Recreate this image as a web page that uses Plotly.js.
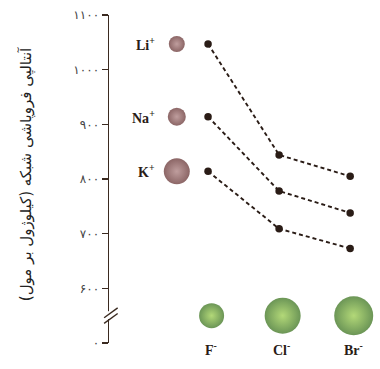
<!DOCTYPE html>
<html>
<head>
<meta charset="utf-8">
<script src="https://cdn.plot.ly/plotly-3.0.1.min.js"></script>
<style>html,body{margin:0;padding:0;background:#fff;}#chart{width:380px;height:369px;}</style>
</head>
<body>
<div id="chart"></div>
<script>
// Data
const anions = ['F', 'Cl', 'Br'];
const anionLabels = ['F<sup>-</sup>', 'Cl<sup>-</sup>', 'Br<sup>-</sup>'];
const cations = ['Li', 'Na', 'K'];
const cationLabels = ['Li<sup>+</sup>', 'Na<sup>+</sup>', 'K<sup>+</sup>'];
const liValues = [1047, 844, 805];
const naValues = [914, 778, 738];
const kValues = [814, 709, 673];
const yTickVals = [500, 600, 700, 800, 900, 1000, 1100];
const yTickText = ['۰', '۶۰۰', '۷۰۰', '۸۰۰', '۹۰۰', '۱۰۰۰', '۱۱۰۰'];
const yTitle = 'آنتالپی فروپاشی شبکه (کیلوژول بر مول)';

const xIdx = anions.map((a, i) => i);
const series = [liValues, naValues, kValues];

const traces = series.map(vals => ({
  type: 'scatter', mode: 'lines+markers',
  x: xIdx, y: vals,
  line: {color: '#2a1c16', width: 1.9, dash: '4px,3px'},
  marker: {color: '#2a1c16', size: 7.5},
  hoverinfo: 'skip', showlegend: false, cliponaxis: false
}));

// cation spheres at level of the fluoride values
traces.push({
  type: 'scatter', mode: 'markers',
  x: cations.map(() => -0.44), y: series.map(v => v[0]),
  marker: {size: [16, 18, 26], color: '#5a2424',
    gradient: {type: 'radial', color: '#a47474'}, line: {width: 0}},
  hoverinfo: 'skip', showlegend: false, cliponaxis: false
});

// anion spheres
traces.push({
  type: 'scatter', mode: 'markers',
  x: xIdx.map(i => i + 0.05), y: anions.map(() => 550),
  marker: {size: [25, 36, 39], color: '#2c680e',
    gradient: {type: 'radial', color: '#92c83e'}, line: {width: 0}},
  hoverinfo: 'skip', showlegend: false, cliponaxis: false
});

const labelFont = {family: 'Liberation Serif, serif', size: 14, color: '#2a1c16'};
const annotations = [];
cationLabels.forEach((t, i) => annotations.push({
  x: -0.72, y: series[i][0], xref: 'x', yref: 'y', text: '<b>' + t + '</b>',
  showarrow: false, xanchor: 'right', yanchor: 'middle', font: labelFont
}));
anionLabels.forEach((t, i) => annotations.push({
  x: i + 0.04, y: 0, xref: 'x', yref: 'paper', text: '<b>' + t + '</b>',
  showarrow: false, xanchor: 'center', yanchor: 'middle', yshift: -6, font: labelFont
}));
annotations.push({
  x: -0.306, y: 0.515, xref: 'paper', yref: 'paper', text: yTitle,
  textangle: -90, showarrow: false, xanchor: 'center', yanchor: 'middle',
  font: {family: 'DejaVu Sans, sans-serif', size: 15, color: '#222'}
});

const axColor = '#3a2a20';
const yb = 0.085;
const shapes = [
  {type: 'rect', xref: 'paper', yref: 'paper', x0: -0.012, x1: 0.012, y0: yb - 0.012, y1: yb + 0.012,
   fillcolor: '#fff', line: {width: 0}, layer: 'above'},
  {type: 'line', xref: 'paper', yref: 'paper', x0: -0.018, x1: 0.032, y0: yb - 0.025, y1: yb + 0.005,
   line: {color: axColor, width: 1.4}},
  {type: 'line', xref: 'paper', yref: 'paper', x0: -0.018, x1: 0.032, y0: yb - 0.008, y1: yb + 0.022,
   line: {color: axColor, width: 1.4}}
];

const layout = {
  width: 380, height: 369,
  margin: {l: 109, r: 0, t: 15, b: 26},
  paper_bgcolor: '#fff', plot_bgcolor: '#fff',
  showlegend: false,
  xaxis: {range: [-1.394, 2.42], showline: false, showgrid: false, zeroline: false,
    showticklabels: false, ticks: '', fixedrange: true},
  yaxis: {range: [500, 1100], tickvals: yTickVals, ticktext: yTickText,
    ticks: 'outside', ticklen: 6, tickwidth: 1.4, tickcolor: axColor,
    showline: true, linecolor: axColor, linewidth: 1.5,
    showgrid: false, zeroline: false,
    tickfont: {family: 'DejaVu Sans, sans-serif', size: 12, color: '#444'}},
  annotations: annotations,
  shapes: shapes
};

Plotly.newPlot('chart', traces, layout, {displayModeBar: false, staticPlot: true});
</script>
</body>
</html>
